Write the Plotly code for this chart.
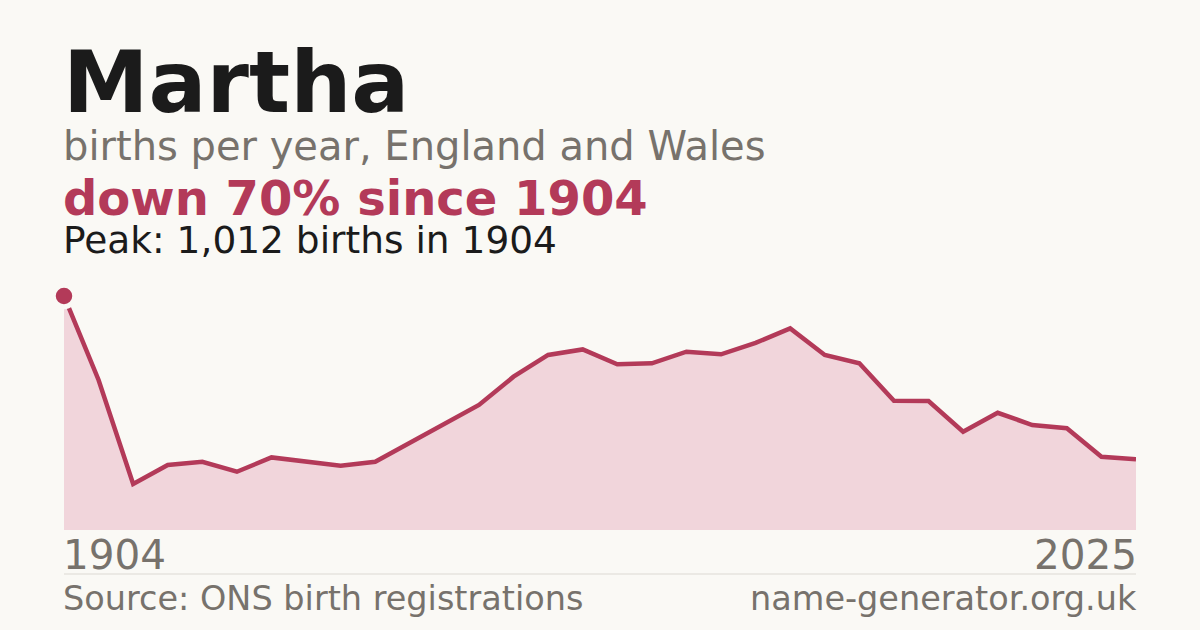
import plotly.graph_objects as go

# births per sample (evenly spaced samples 1904 -> 2025)
births = [1012, 649, 199, 281, 295, 252, 314, 298, 278, 295, 376, 458,
          541, 663, 757, 781, 717, 721, 771, 760, 809, 872, 757, 721,
          559, 558, 425, 507, 454, 440, 317, 306]
idx = list(range(len(births)))
first_year = "1904"
last_year = "2025"

name = "Martha"
subtitle = "births per year, England and Wales"
headline = "down 70% since 1904"
peak_note = "Peak: 1,012 births in 1904"
source = "Source: ONS birth registrations"
site = "name-generator.org.uk"

BG = "#faf9f5"
RED = "#b33a59"
FILL = "#f1d5db"
GREY = "#77726c"
INK = "#1b1b1b"
FONT = "DejaVu Sans"

W, H = 1200, 630
LEFT = 62 / W    # annotations carry ~2px of padding
RIGHT = 1138 / W


def py(px):
    # pixel row -> paper y
    return 1 - px / H


fig = go.Figure()

fig.add_trace(go.Scatter(
    x=idx, y=births, mode="lines", fill="tozeroy",
    fillcolor=FILL, line=dict(color=RED, width=4.5),
    hoverinfo="skip", cliponaxis=False,
))

# peak marker with a background halo
peak_i = births.index(max(births))
fig.add_trace(go.Scatter(
    x=[idx[peak_i]], y=[births[peak_i]], mode="markers",
    marker=dict(size=21.5, color=RED, line=dict(color=BG, width=5)),
    hoverinfo="skip", cliponaxis=False,
))

fig.update_xaxes(domain=[64 / W, 1136 / W], range=[idx[0], idx[-1]],
                 visible=False, fixedrange=True)
fig.update_yaxes(domain=[py(530), py(296)], range=[0, max(births)],
                 visible=False, fixedrange=True)

ann = [
    dict(text=name, x=LEFT, y=py(82.5), font=dict(size=86, color=INK, family=FONT, weight="bold")),
    dict(text=subtitle, x=LEFT, y=py(146), font=dict(size=40, color=GREY, family=FONT)),
    dict(text=headline, x=LEFT, y=py(198), font=dict(size=48, color=RED, family=FONT, weight="bold")),
    dict(text=peak_note, x=LEFT, y=py(240.5), font=dict(size=37.5, color=INK, family=FONT)),
    dict(text=first_year, x=LEFT, y=py(554.5), font=dict(size=40.5, color=GREY, family=FONT)),
    dict(text=last_year, x=RIGHT, y=py(554.5), xanchor="right", font=dict(size=40.5, color=GREY, family=FONT)),
    dict(text=source, x=LEFT, y=py(598.5), font=dict(size=33.5, color=GREY, family=FONT)),
    dict(text=site, x=RIGHT, y=py(598.5), xanchor="right", font=dict(size=33.5, color=GREY, family=FONT)),
]
for a in ann:
    a.setdefault("xanchor", "left")
    fig.add_annotation(xref="paper", yref="paper", yanchor="middle",
                       showarrow=False, borderpad=0, **a)

fig.add_shape(type="line", xref="paper", yref="paper",
              x0=64 / W, x1=1136 / W, y0=py(574), y1=py(574),
              line=dict(color="#dcd9d3", width=1))

fig.update_layout(
    width=W, height=H, margin=dict(l=0, r=0, t=0, b=0),
    paper_bgcolor=BG, plot_bgcolor=BG, showlegend=False,
)

fig.write_html("out.html", config={"displayModeBar": False}, post_script=(
    "document.body.style.margin='0';"
    "document.body.style.background='" + BG + "';"
))
